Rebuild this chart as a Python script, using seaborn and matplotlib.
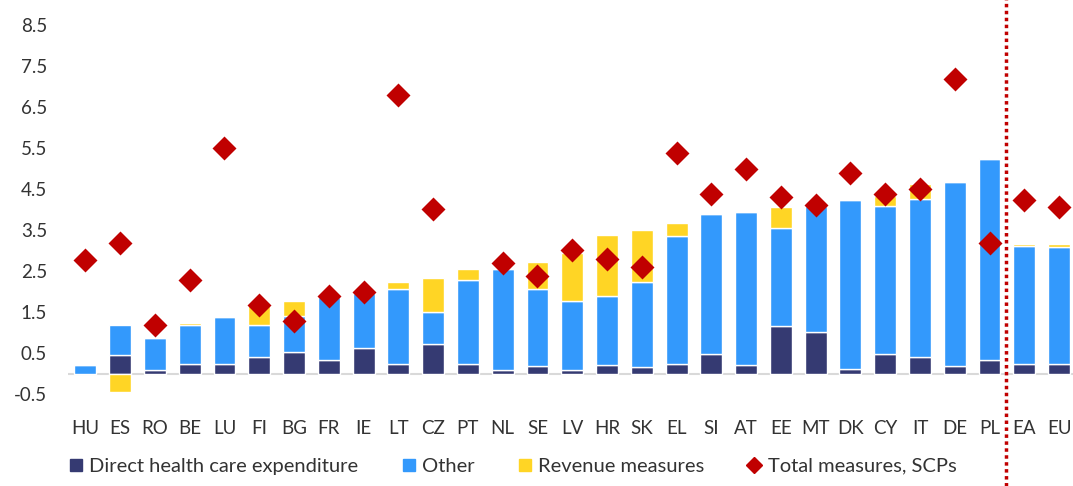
import numpy as np
import pandas as pd
import seaborn as sns
import matplotlib.pyplot as plt
from matplotlib.lines import Line2D

countries = ["HU", "ES", "RO", "BE", "LU", "FI", "BG", "FR", "IE", "LT", "CZ", "PT", "NL", "SE", "LV",
             "HR", "SK", "EL", "SI", "AT", "EE", "MT", "DK", "CY", "IT", "DE", "PL", "EA", "EU"]
direct = [0.00, 0.44, 0.09, 0.24, 0.24, 0.41, 0.53, 0.32, 0.61, 0.24, 0.73, 0.24, 0.09, 0.18, 0.09,
          0.21, 0.15, 0.24, 0.47, 0.21, 1.15, 1.01, 0.12, 0.47, 0.41, 0.18, 0.33, 0.24, 0.24]
other = [0.20, 0.75, 0.78, 0.95, 1.14, 0.78, 0.88, 1.54, 1.36, 1.81, 0.76, 2.04, 2.47, 1.89, 1.67,
         1.67, 2.07, 3.12, 3.43, 3.72, 2.41, 3.08, 4.10, 3.61, 3.84, 4.49, 4.89, 2.87, 2.84]
revenue = [0.03, -0.44, 0.03, 0.05, 0.00, 0.47, 0.37, 0.00, 0.00, 0.19, 0.84, 0.28, 0.02, 0.66, 1.18,
           1.51, 1.28, 0.32, 0.00, 0.00, 0.51, 0.00, 0.00, 0.25, 0.37, 0.00, 0.03, 0.05, 0.08]
total = [2.78, 3.19, 1.19, 2.28, 5.50, 1.67, 1.27, 1.89, 2.00, 6.79, 4.00, np.nan, 2.70, 2.38, 3.00,
         2.79, 2.59, 5.39, 4.39, 4.99, 4.31, 4.11, 4.90, 4.39, 4.51, 7.19, 3.19, 4.22, 4.05]

c_direct = "#353a72"
c_other = "#3399fc"
c_rev = "#ffd525"
c_total = "#c00000"

sns.set_style("white")
plt.rcParams["font.family"] = ["Lato", "DejaVu Sans"]

df = pd.DataFrame({"country": countries, "direct": direct, "other": other,
                   "revenue": revenue, "total": total})
rev = df["revenue"].to_numpy()
bottom_rev = np.where(rev >= 0, df["direct"] + df["other"], 0.0)

fig = plt.figure(figsize=(10.73, 4.86), dpi=100)
ax = fig.add_axes([68 / 1073, 1 - 394 / 486, 1 - 68 / 1073, (394 - 25) / 486])

w = 0.63
sns.barplot(data=df, x="country", y="direct", color=c_direct, width=w, saturation=1, ax=ax)
sns.barplot(data=df, x="country", y="other", bottom=df["direct"].to_numpy(), color=c_other,
            width=w, saturation=1, ax=ax)
sns.barplot(data=df, x="country", y="revenue", bottom=bottom_rev, color=c_rev,
            width=w, saturation=1, ax=ax)
sns.pointplot(data=df, x="country", y="total", color=c_total, linestyle="none",
              marker="D", markersize=10, errorbar=None, ax=ax)

ax.axhline(0, color="#d9d9d9", lw=1.5, zorder=0)
ax.axvline(26.47, ymin=-0.25, ymax=1.07, color=c_total, lw=2.5,
           linestyle=(0, (1, 1)), clip_on=False, zorder=5)

ax.set_xlim(-0.5, 28.4)
ax.set_ylim(-0.5, 8.5)
ax.set_yticks(np.arange(-0.5, 8.6, 1.0))
ax.set_yticklabels([f"{v:.1f}" for v in np.arange(-0.5, 8.6, 1.0)])
ax.set_xlabel("")
ax.set_ylabel("")
ax.tick_params(axis="y", length=0, pad=15, labelsize=13.5, labelcolor="#333333")
ax.tick_params(axis="x", length=0, pad=19, labelsize=13.5, labelcolor="#333333")
for s in ax.spines.values():
    s.set_visible(False)

handles = [
    Line2D([], [], marker="s", color=c_direct, linestyle="none", markersize=8),
    Line2D([], [], marker="s", color=c_other, linestyle="none", markersize=8),
    Line2D([], [], marker="s", color=c_rev, linestyle="none", markersize=8),
    Line2D([], [], marker="D", color=c_total, linestyle="none", markersize=8),
]
labels = ["Direct health care expenditure", "Other", "Revenue measures", "Total measures, SCPs"]
fig.legend(handles, labels, loc="center left", bbox_to_anchor=(52 / 1073, 1 - 466 / 486),
           ncol=4, frameon=False, fontsize=14.5, handlelength=0.6, handletextpad=0.35,
           columnspacing=2.2, labelcolor="#333333")

fig.savefig("out.png", dpi=100)
